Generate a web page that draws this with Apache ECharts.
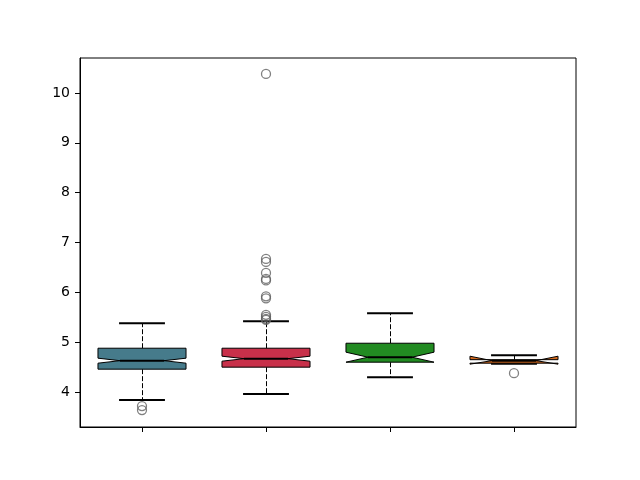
<!DOCTYPE html>
<html>
<head>
<meta charset="utf-8">
<script src="https://cdn.jsdelivr.net/npm/echarts@6/dist/echarts.min.js"></script>
<style>html,body{margin:0;padding:0;background:#fff;}#chart{width:640px;height:480px;}</style>
</head>
<body>
<div id="chart"></div>
<script>
const categories = ['1', '2', '3', '4'];
const whiskerLow = [3.84, 3.96, 4.30, 4.57];
const q1 = [4.46, 4.50, 4.60, 4.58];
const median = [4.63, 4.67, 4.70, 4.63];
const q3 = [4.88, 4.88, 4.98, 4.65];
const whiskerHigh = [5.38, 5.42, 5.58, 4.74];
const notchLow = [4.58, 4.62, 4.60, 4.56];
const notchHigh = [4.68, 4.72, 4.80, 4.72];
const outliers = [
  [3.72, 3.64],
  [10.38, 6.67, 6.61, 6.39, 6.27, 6.24, 5.92, 5.88, 5.55, 5.51, 5.47, 5.45],
  [],
  [4.38]
];
const yTicks = [4, 5, 6, 7, 8, 9, 10];
const boxColors = ['#467b8b', '#c8304a', '#228b22', '#d2691e'];

const boxFrac = 0.71;
const capFrac = 0.37;

const boxData = categories.map((c, i) => [i, whiskerLow[i], q1[i], median[i], q3[i], whiskerHigh[i], notchLow[i], notchHigh[i]]);
const outlierData = [];
outliers.forEach((arr, i) => arr.forEach(v => outlierData.push([i, v])));

function renderItem(params, api) {
  const i = api.value(0);
  const band = api.size([1, 0])[0];
  const half = band * boxFrac / 2;
  const capHalf = band * capFrac / 2;
  const cx = api.coord([i, 5])[0];
  const cxs = Math.round(cx - 0.5) + 0.5;
  const y = v => api.coord([i, v])[1];
  const wl = api.value(1), a = api.value(2), m = api.value(3), b = api.value(4), wh = api.value(5), nl = api.value(6), nh = api.value(7);
  const pts = [
    [cx - half, y(a)], [cx + half, y(a)], [cx + half, y(nl)], [cx + half / 2, y(m)],
    [cx + half, y(nh)], [cx + half, y(b)], [cx - half, y(b)], [cx - half, y(nh)],
    [cx - half / 2, y(m)], [cx - half, y(nl)]
  ];
  const black = '#000';
  return {
    type: 'group',
    children: [
      { type: 'line', shape: { x1: cxs, y1: y(a), x2: cxs, y2: y(wl) }, style: { stroke: black, lineWidth: 1, lineDash: [5, 2] } },
      { type: 'line', shape: { x1: cxs, y1: y(b), x2: cxs, y2: y(wh) }, style: { stroke: black, lineWidth: 1, lineDash: [5, 2] } },
      { type: 'line', shape: { x1: cx - capHalf, y1: y(wl), x2: cx + capHalf, y2: y(wl) }, style: { stroke: black, lineWidth: 2 } },
      { type: 'line', shape: { x1: cx - capHalf, y1: y(wh), x2: cx + capHalf, y2: y(wh) }, style: { stroke: black, lineWidth: 2 } },
      { type: 'polygon', shape: { points: pts }, style: { fill: boxColors[i], stroke: black, lineWidth: 1 } },
      { type: 'line', shape: { x1: cx - half / 2, y1: y(m), x2: cx + half / 2, y2: y(m) }, style: { stroke: black, lineWidth: 2 } }
    ]
  };
}

const chart = echarts.init(document.getElementById('chart'));
chart.setOption({
  animation: false,
  grid: { left: 80, right: 64, top: 58, bottom: 53, show: true, borderColor: '#000', borderWidth: 1, backgroundColor: 'transparent' },
  xAxis: {
    type: 'category',
    data: categories,
    boundaryGap: true,
    axisLine: { show: true, lineStyle: { color: '#000', width: 1 } },
    axisTick: { show: true, alignWithLabel: true, length: 5, lineStyle: { color: '#000', width: 1 } },
    axisLabel: { show: false },
    splitLine: { show: false }
  },
  yAxis: {
    type: 'value',
    min: 3.3,
    max: 10.7,
    axisLine: { show: true, lineStyle: { color: '#000', width: 1 } },
    axisTick: { show: true, length: 5, customValues: yTicks, lineStyle: { color: '#000', width: 1 } },
    axisLabel: { show: true, customValues: yTicks, margin: 10, color: '#000', fontSize: 14, fontFamily: 'DejaVu Sans' },
    splitLine: { show: false }
  },
  series: [
    {
      type: 'custom',
      renderItem: renderItem,
      data: boxData,
      encode: { x: 0, y: [1, 2, 3, 4, 5] },
      z: 2
    },
    {
      type: 'scatter',
      data: outlierData,
      symbol: 'circle',
      symbolSize: 9,
      itemStyle: { color: 'rgba(0,0,0,0)', borderColor: '#606060', borderWidth: 1.3 },
      z: 3
    }
  ]
});
</script>
</body>
</html>
